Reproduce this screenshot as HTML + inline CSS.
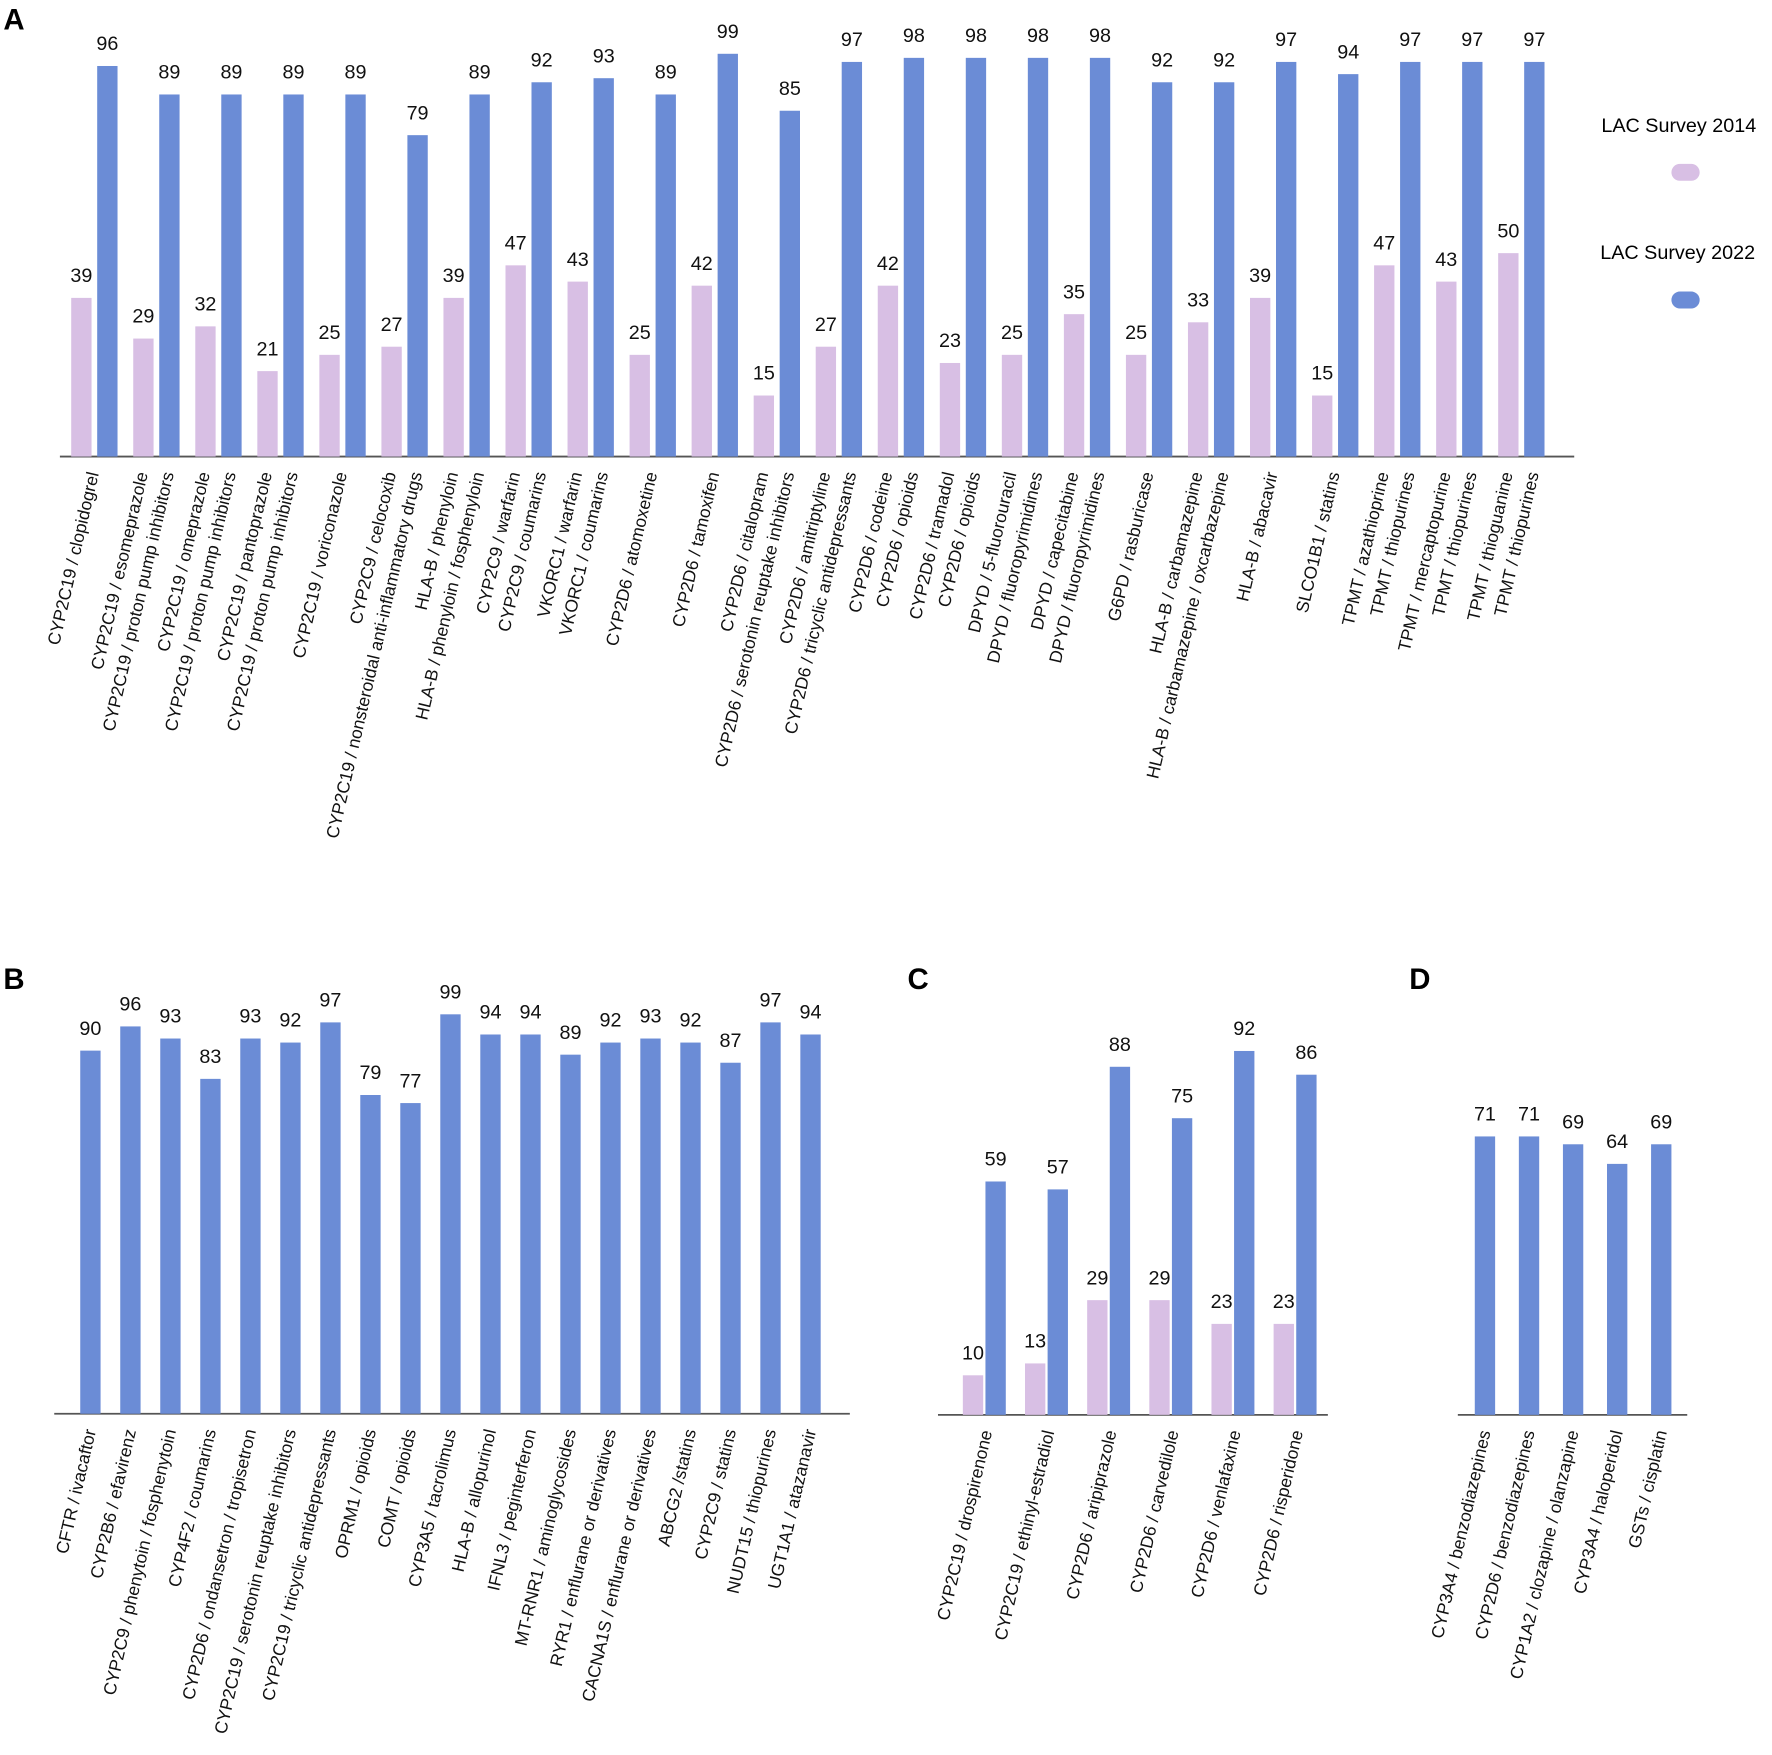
<!DOCTYPE html>
<html><head><meta charset="utf-8"><style>
html,body{margin:0;padding:0;background:#fff;}
svg{display:block;font-family:"Liberation Sans",Arial,sans-serif;}
</style></head><body>
<svg id="fig" xmlns="http://www.w3.org/2000/svg" width="1772" height="1755" viewBox="0 0 1568 1553" preserveAspectRatio="none">
<text x="3" y="26" font-size="26" font-weight="bold">A</text>
<text x="3" y="875" font-size="26" font-weight="bold">B</text>
<text x="803" y="875" font-size="26" font-weight="bold">C</text>
<text x="1247" y="875" font-size="26" font-weight="bold">D</text>
<g>
<text x="1417" y="117" font-size="17.5">LAC Survey 2014</text>
<rect x="1479" y="145" width="25" height="15" rx="7.5" fill="#d8bfe4"/>
<text x="1416" y="229" font-size="17.5">LAC Survey 2022</text>
<rect x="1479" y="258" width="25" height="15" rx="7.5" fill="#6b8cd6"/>
</g>
</svg>
<script>
// Panel A data
const aV2014 = [39,29,32,21,25,27,39,47,43,25,42,15,27,42,23,25,35,25,33,39,15,47,43,50];
const aV2022 = [96,89,89,89,89,79,89,92,93,89,99,85,97,98,98,98,98,92,92,97,94,97,97,97];
const aLabels = [
 ["CYP2C19 / clopidogrel"],
 ["CYP2C19 / esomeprazole","CYP2C19 / proton pump inhibitors"],
 ["CYP2C19 / omeprazole","CYP2C19 / proton pump inhibitors"],
 ["CYP2C19 / pantoprazole","CYP2C19 / proton pump inhibitors"],
 ["CYP2C19 / voriconazole"],
 ["CYP2C9 / celocoxib","CYP2C19 / nonsteroidal anti-inflammatory drugs"],
 ["HLA-B / phenyloin","HLA-B / phenyloin / fosphenyloin"],
 ["CYP2C9 / warfarin","CYP2C9 / coumarins"],
 ["VKORC1 / warfarin","VKORC1 / coumarins"],
 ["CYP2D6 / atomoxetine"],
 ["CYP2D6 / tamoxifen"],
 ["CYP2D6 / citalopram","CYP2D6 / serotonin reuptake inhibitors"],
 ["CYP2D6 / amitriptyline","CYP2D6 / tricyclic antidepressants"],
 ["CYP2D6 / codeine","CYP2D6 / opioids"],
 ["CYP2D6 / tramadol","CYP2D6 / opioids"],
 ["DPYD / 5-fluorouracil","DPYD / fluoropyrimidines"],
 ["DPYD / capecitabine","DPYD / fluoropyrimidines"],
 ["G6PD / rasburicase"],
 ["HLA-B / carbamazepine","HLA-B / carbamazepine / oxcarbazepine"],
 ["HLA-B / abacavir"],
 ["SLCO1B1 / statins"],
 ["TPMT / azathioprine","TPMT / thiopurines"],
 ["TPMT / mercaptopurine","TPMT / thiopurines"],
 ["TPMT / thioguanine","TPMT / thiopurines"]
];
// Panel B data
const bValues = [90,96,93,83,93,92,97,79,77,99,94,94,89,92,93,92,87,97,94];
const bLabels = ["CFTR / ivacaftor","CYP2B6 / efavirenz","CYP2C9 / phenytoin / fosphenytoin","CYP4F2 / coumarins","CYP2D6 / ondansetron / tropisetron","CYP2C19 / serotonin reuptake inhibitors","CYP2C19 / tricyclic antidepressants","OPRM1 / opioids","COMT / opioids","CYP3A5 / tacrolimus","HLA-B / allopurinol","IFNL3 / peginterferon","MT-RNR1 / aminoglycosides","RYR1 / enflurane or derivatives","CACNA1S / enflurane or derivatives","ABCG2 /statins","CYP2C9 / statins","NUDT15 / thiopurines","UGT1A1 / atazanavir"];
// Panel C data
const cV2014 = [10,13,29,29,23,23];
const cV2022 = [59,57,88,75,92,86];
const cLabels = ["CYP2C19 / drospirenone","CYP2C19 / ethinyl-estradiol","CYP2D6 / aripiprazole","CYP2D6 / carvedilole","CYP2D6 / venlafaxine","CYP2D6 / risperidone"];
// Panel D data
const dValues = [71,71,69,64,69];
const dLabels = ["CYP3A4 / benzodiazepines","CYP2D6 / benzodiazepines","CYP1A2 / clozapine / olanzapine","CYP3A4 / haloperidol","GSTs / cisplatin"];

const NS = "http://www.w3.org/2000/svg";
const svg = document.getElementById('fig');
const PINK = "#d8bfe4", BLUE = "#6b8cd6";
const BW = 18;
function mk(tag, attrs, parent){const e=document.createElementNS(NS,tag);for(const k in attrs)e.setAttribute(k,attrs[k]);(parent||svg).appendChild(e);return e;}
function bar(x,base,v,k,color,name){
  const r = mk('rect',{x:x,y:base-v*k,width:BW,height:v*k,fill:color});
  
  
  const t = mk('text',{x:x+BW/2,y:base-v*k-14,'font-size':17.5,'text-anchor':'middle',fill:'#111'});
  t.textContent = v;
  
  
}
function label(x,base,txt,name){
  const t = mk('text',{x:0,y:0,'font-size':15.5,'text-anchor':'end',fill:'#111',transform:`translate(${x},${base+15}) rotate(-77)`});
  t.textContent = txt;
  
  
}
function axis(x1,x2,y,name){
  const l = mk('line',{x1:x1,x2:x2,y1:y,y2:y,stroke:'#555','stroke-width':1.6});
  
  
}
// Panel A
const aBase = 404, aX0 = 63, aPitch = 54.9, aK = 3.6;
axis(53,1393,aBase,'panel-a-x-axis');
aV2014.forEach((v,i)=>{
  const px = aX0 + i*aPitch, bx = px + 23;
  bar(px,aBase,v,aK,PINK,'panel-a-bar-2014-'+i);
  bar(bx,aBase,aV2022[i],aK,BLUE,'panel-a-bar-2022-'+i);
  const labs = aLabels[i];
  if(labs.length===1) label((px+bx+BW)/2+4,aBase,labs[0],'panel-a-label-'+i);
  else { label(px+BW/2+4,aBase,labs[0],'panel-a-label-'+i+'-2014'); label(bx+BW/2+4,aBase,labs[1],'panel-a-label-'+i+'-2022'); }
});
// Panel B
const bBase = 1251, bX0 = 71, bPitch = 35.4, bK = 3.57;
axis(48,752,bBase,'panel-b-x-axis');
bValues.forEach((v,i)=>{
  const x = bX0 + i*bPitch;
  bar(x,bBase,v,bK,BLUE,'panel-b-bar-'+i);
  label(x+BW/2+5,bBase,bLabels[i],'panel-b-label-'+i);
});
// Panel C
const cBase = 1252, cX0 = 852, cPitch = 55, cK = 3.5;
axis(830,1175,cBase,'panel-c-x-axis');
cV2014.forEach((v,i)=>{
  const px = cX0 + i*cPitch, bx = px + 20;
  bar(px,cBase,v,cK,PINK,'panel-c-bar-2014-'+i);
  bar(bx,cBase,cV2022[i],cK,BLUE,'panel-c-bar-2022-'+i);
  label(px+BW+8,cBase,cLabels[i],'panel-c-label-'+i);
});
// Panel D
const dBase = 1252, dX0 = 1305, dPitch = 39, dK = 3.47;
axis(1290,1493,dBase,'panel-d-x-axis');
dValues.forEach((v,i)=>{
  const x = dX0 + i*dPitch;
  bar(x,dBase,v,dK,BLUE,'panel-d-bar-'+i);
  label(x+BW/2+5,dBase,dLabels[i],'panel-d-label-'+i);
});
</script>
</body></html>
